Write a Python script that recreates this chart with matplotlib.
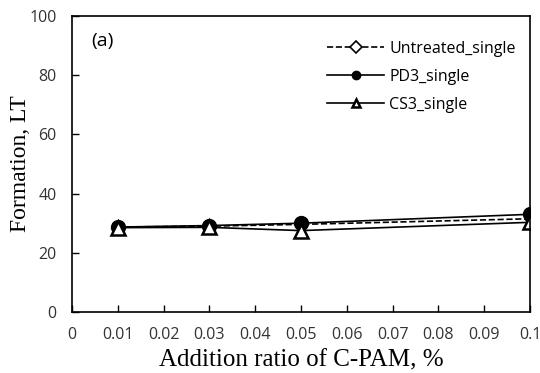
import matplotlib
matplotlib.use('Agg')
import matplotlib.pyplot as plt

# datos
ratio = [0.01, 0.03, 0.05, 0.1]
untreated = [28.7, 29.0, 29.6, 31.5]
pd3 = [28.7, 29.2, 30.0, 33.0]
cs3 = [28.5, 28.6, 27.5, 30.3]

xticks = [0, 0.01, 0.02, 0.03, 0.04, 0.05, 0.06, 0.07, 0.08, 0.09, 0.1]
xlabels = ['0', '0.01', '0.02', '0.03', '0.04', '0.05', '0.06', '0.07', '0.08', '0.09', '0.1']

fig = plt.figure(figsize=(5.4, 3.73), dpi=100)
ax = fig.add_axes([72/540, 1 - 312/373, 458/540, 296/373])

ax.plot(ratio, untreated, '--', color='black', marker='D', markersize=5,
        markerfacecolor='white', markeredgewidth=1.2, lw=1.2, label='Untreated_single')
ax.plot(ratio, pd3, '-', color='black', marker='o', markersize=10,
        lw=1.2, label='PD3_single')
ax.plot(ratio, cs3, '-', color='black', marker='^', markersize=10,
        markerfacecolor='white', markeredgewidth=1.8, lw=1.2, label='CS3_single')

ax.set_xlim(0, 0.1)
ax.set_ylim(0, 100)
ax.set_xticks(xticks)
ax.set_xticklabels(xlabels)
ax.set_yticks(range(0, 101, 20))
ax.tick_params(direction='in', length=5, width=1, labelsize=11.5, pad=11)
for s in ax.spines.values():
    s.set_linewidth(1.2)
for lab in ax.get_xticklabels() + ax.get_yticklabels():
    lab.set_fontfamily('Open Sans')
    lab.set_color('#333333')

ax.set_xlabel('Addition ratio of C-PAM, %', family='Liberation Serif', fontsize=18)
ax.set_ylabel('Formation, LT', family='Liberation Serif', fontsize=17)
ax.xaxis.set_label_coords(0.5, -0.128)
ax.yaxis.set_label_coords(-0.09, 0.5)
ax.text(0.043, 0.945, '(a)', transform=ax.transAxes, fontsize=14,
        family='Open Sans', va='top')

leg = ax.legend(loc='upper right', frameon=False, prop={'family': 'Open Sans', 'size': 11.5},
                handlelength=3.6, bbox_to_anchor=(1.0, 0.965), labelspacing=0.75,
                handletextpad=0.3)
for h in leg.legend_handles:
    h.set_markersize(6)

fig.savefig('out.png', dpi=100)
